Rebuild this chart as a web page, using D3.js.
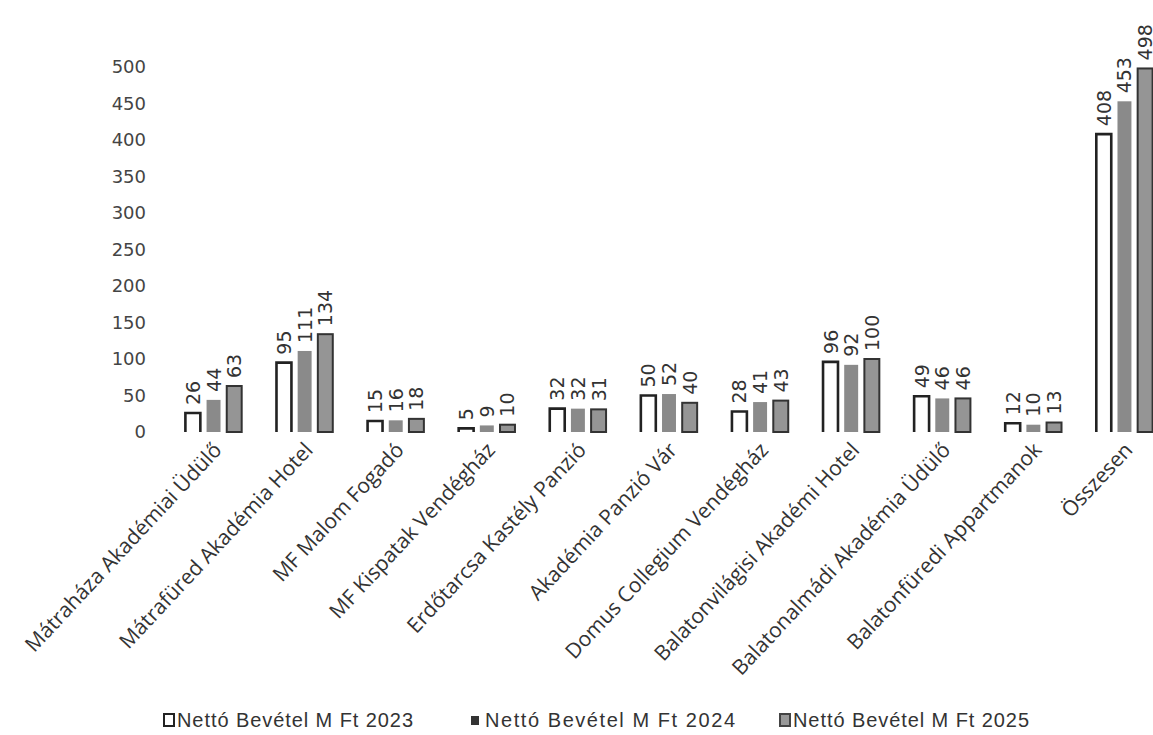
<!DOCTYPE html>
<html>
<head>
<meta charset="utf-8">
<script src="https://cdn.jsdelivr.net/npm/d3@7"></script>
<style>
  body { margin: 0; background: #fff; }
</style>
</head>
<body>
<div id="chart"></div>
<script>
const categories = ['Mátraháza Akadémiai Üdülő', 'Mátrafüred Akadémia Hotel', 'MF Malom Fogadó',
  'MF Kispatak Vendégház', 'Erdőtarcsa Kastély Panzió', 'Akadémia Panzió Vár',
  'Domus Collegium Vendégház', 'Balatonvilágisi Akadémi Hotel', 'Balatonalmádi Akadémia Üdülő',
  'Balatonfüredi Appartmanok', 'Összesen'];
const seriesNames = ['Nettó Bevétel M Ft 2023', 'Nettó Bevétel M Ft 2024', 'Nettó Bevétel M Ft 2025'];
const values2023 = [26, 95, 15, 5, 32, 50, 28, 96, 49, 12, 408];
const values2024 = [44, 111, 16, 9, 32, 52, 41, 92, 46, 10, 453];
const values2025 = [63, 134, 18, 10, 31, 40, 43, 100, 46, 13, 498];
const yTicks = [0, 50, 100, 150, 200, 250, 300, 350, 400, 450, 500];

const allValues = [values2023, values2024, values2025];

const width = 1153;
const height = 735;

const svg = d3.select('#chart').append('svg')
  .attr('width', width)
  .attr('height', height);

// scales
let x = d3.scaleBand().domain(categories)
  .range([168, 1170])
  .paddingInner(0.36)
  .paddingOuter(0.18);

let xSub = d3.scaleBand().domain(seriesNames)
  .range([0, x.bandwidth()])
  .paddingInner(0.18);

let y = d3.scaleLinear().domain([0, 500]).range([432, 67]);

// y axis (no line, no ticks)
let yAxis = d3.axisLeft(y).tickValues(yTicks).tickSize(0).tickPadding(0);
let yG = svg.append('g')
  .attr('transform', 'translate(146,0)')
  .call(yAxis);
yG.select('.domain').remove();
yG.selectAll('text')
  .attr('font-family', 'DejaVu Sans')
  .attr('font-size', 18)
  .attr('fill', '#444');

// bars
const fills = ['#ffffff', '#8a8a8a', '#959595'];

seriesNames.forEach(function(s, si) {
  let g = svg.append('g');
  let bx = function(i) { return x(categories[i]) + xSub(s); };
  let bw = xSub.bandwidth();
  if (si === 0) {
    // open-bottom outlined bar
    g.selectAll('path')
      .data(allValues[si])
      .enter().append('path')
        .attr('d', function(d, i) {
          let x0 = bx(i) + 1, x1 = bx(i) + bw - 1;
          return 'M' + x0 + ',' + y(0) + 'V' + y(d) + 'H' + x1 + 'V' + y(0);
        })
        .attr('fill', '#fff')
        .attr('stroke', '#222')
        .attr('stroke-width', 2.6);
  } else if (si === 1) {
    g.selectAll('rect')
      .data(allValues[si])
      .enter().append('rect')
        .attr('x', function(d, i) { return bx(i) + 1.5; })
        .attr('width', bw - 3)
        .attr('y', function(d) { return y(d); })
        .attr('height', function(d) { return y(0) - y(d); })
        .attr('fill', fills[si]);
  } else {
    g.selectAll('rect')
      .data(allValues[si])
      .enter().append('rect')
        .attr('x', function(d, i) { return bx(i) + 1; })
        .attr('width', bw - 2)
        .attr('y', function(d) { return y(d); })
        .attr('height', function(d) { return y(0) - y(d); })
        .attr('fill', fills[si])
        .attr('stroke', '#333')
        .attr('stroke-width', 2);
  }

  // value labels
  g.selectAll('text')
    .data(allValues[si])
    .enter().append('text')
      .attr('transform', function(d, i) {
        return 'translate(' + (bx(i) + bw / 2) + ',' + (y(d) - 8) + ') rotate(-90)';
      })
      .attr('dominant-baseline', 'central')
      .attr('text-anchor', 'start')
      .attr('font-family', 'DejaVu Sans')
      .attr('font-size', 19)
      .attr('fill', '#333')
      .text(function(d) { return d; });
});

// category labels
let xAxis = d3.axisBottom(x).tickSize(0).tickPadding(0);
let xG = svg.append('g')
  .attr('transform', 'translate(4,' + (y(0) + 14) + ')')
  .call(xAxis);
xG.select('.domain').remove();
xG.selectAll('text')
  .attr('font-family', 'Open Sans')
  .attr('font-size', 21)
  .attr('fill', '#333')
  .attr('text-anchor', 'end')
  .attr('dy', '0.35em')
  .attr('transform', 'rotate(-47)');

// legend
const legendX = [163, 470, 779];
let legend = svg.append('g');
seriesNames.forEach(function(s, si) {
  let lg = legend.append('g').attr('transform', 'translate(' + legendX[si] + ',720)');
  if (si === 0) {
    lg.append('rect').attr('x', 1).attr('y', -6).attr('width', 10).attr('height', 12)
      .attr('fill', '#fff').attr('stroke', '#222').attr('stroke-width', 2);
  } else if (si === 1) {
    lg.append('rect').attr('x', 1).attr('y', -4).attr('width', 8).attr('height', 9)
      .attr('fill', '#333');
  } else {
    lg.append('rect').attr('x', 1).attr('y', -6).attr('width', 10).attr('height', 12)
      .attr('fill', '#999').attr('stroke', '#444').attr('stroke-width', 2);
  }
  lg.append('text')
    .attr('x', si === 1 ? 15 : 14)
    .attr('dominant-baseline', 'central')
    .attr('font-family', 'Liberation Sans')
    .attr('font-size', 20)
    .attr('textLength', si === 1 ? 250 : 236)
    .attr('lengthAdjust', 'spacing')
    .attr('fill', '#333')
    .text(s);
});
</script>
</body>
</html>
